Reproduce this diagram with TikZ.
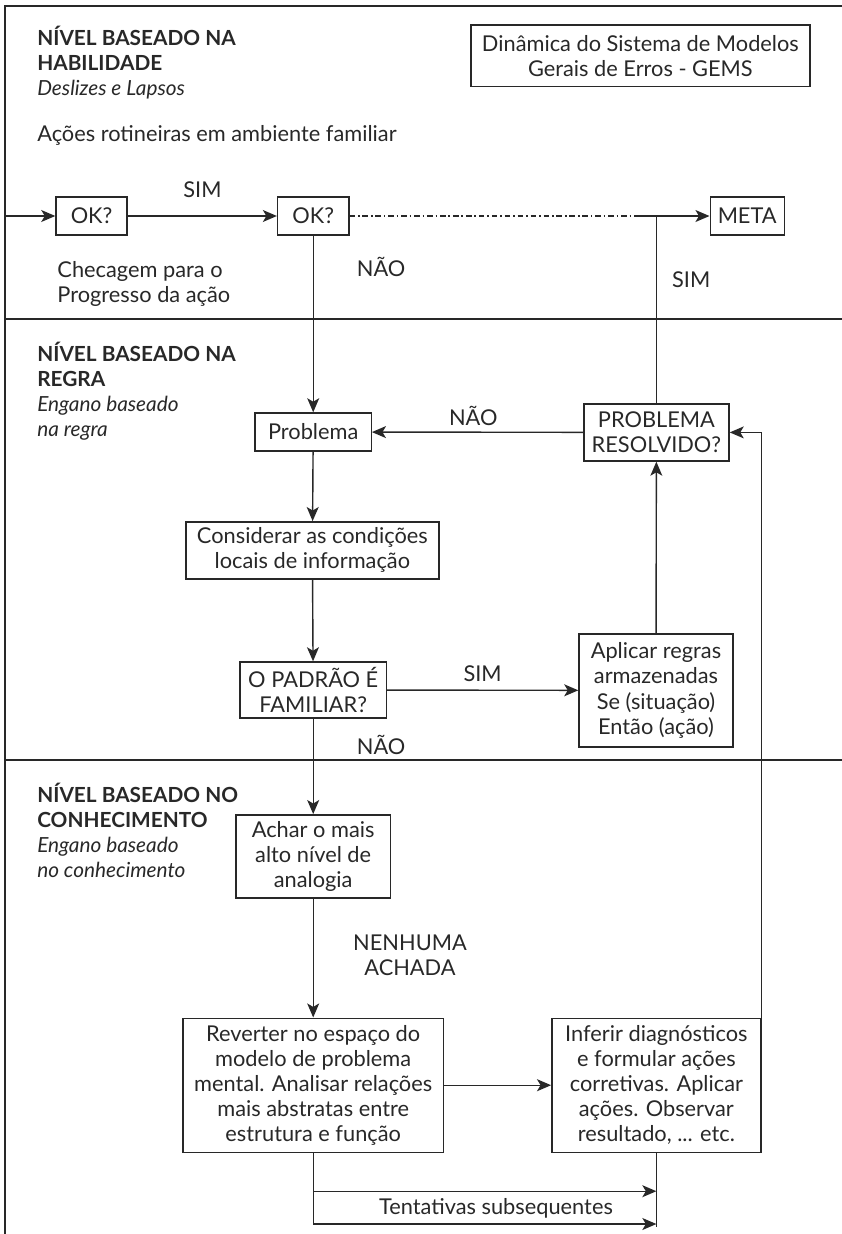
\documentclass[tikz,border=0pt]{standalone}
\usepackage{fontspec}
\setmainfont{Lato}
\usepackage{tikz}
\usetikzlibrary{arrows.meta, positioning, calc}
\definecolor{InkGray}{RGB}{40, 40, 40}

\begin{document}
\begin{tikzpicture}[
            >={Stealth[length=10pt, width=8.5pt, inset=2.5pt]},
            txt/.style={font=\fontsize{15.5}{17.8}\selectfont, text=InkGray, align=center, inner sep=0pt},
            lvl/.style={txt, align=left, anchor=west},
            head/.style={lvl, font=\fontsize{14.8}{17.8}\selectfont},
            box/.style={txt, draw=InkGray, line width=1pt, minimum height=0.95cm},
            flow/.style={->, line width=1pt, InkGray},
            wire/.style={line width=1pt, InkGray},
            frame/.style={line width=1.1pt, InkGray}
        ]

        \useasboundingbox (0,0) rectangle (21.05,-30.85);

        % --- RAMKA I PODZIAŁ NA POZIOMY ---
        \draw[frame] (21.05,-0.15) -- (0.125,-0.15) -- (0.125,-30.85);
        \draw[frame] (0.125,-7.975) -- (21.05,-7.975);
        \draw[frame] (0.125,-19.0) -- (21.05,-19.0);

        % --- ETYKIETY POZIOMÓW (Z LEWEJ STRONY) ---
        \node[head] (lvl1) at (0.925,-1.56) {\textbf{NÍVEL BASEADO NA}\\\textbf{HABILIDADE}\\\textit{Deslizes e Lapsos}};
        \node[lvl] (rotina) at (0.925,-3.375) {Ações rotineiras em ambiente familiar};
        \node[lvl] (checa) at (1.43,-7.11) {Checagem para o\\Progresso da ação};
        \node[head] (lvl2) at (0.925,-9.79) {\textbf{NÍVEL BASEADO NA}\\\textbf{REGRA}\\\textit{Engano baseado}\\\textit{na regra}};
        \node[head] (lvl3) at (0.925,-20.76) {\textbf{NÍVEL BASEADO NO}\\\textbf{CONHECIMENTO}\\\textit{Engano baseado}\\\textit{no conhecimento}};

        \node[box, minimum width=8.48cm, minimum height=1.53cm] (gems) at (16.01,-1.39) {Dinâmica do Sistema de Modelos\\Gerais de Erros - GEMS};

        % --- POZIOM 1: Habilidade ---
        \node[box, minimum width=1.78cm] (ok1) at (2.29,-5.4) {OK?};
        \node[box, minimum width=1.78cm] (ok2) at (7.83,-5.4) {OK?};
        \node[box, minimum width=1.85cm] (meta) at (18.68,-5.4) {META};

        \coordinate (entrada) at (0.125,-5.4);
        \coordinate (fimtraco) at (15.85,-5.4);

        \draw[flow] (entrada) -- (ok1);
        \draw[flow] (ok1) -- (ok2) node[txt, midway, above=0.45cm] {SIM};
        \draw[wire, dash pattern=on 4pt off 2pt on 1.2pt off 2pt] (ok2) -- (fimtraco);
        \draw[flow] (fimtraco) -- (meta);

        % --- POZIOM 2: Regra ---
        \node[box, minimum width=2.9cm] (problema) at (7.83,-10.8) {Problema};
        \node[box, minimum width=3.63cm, minimum height=1.43cm] (resolvido) at (16.41,-10.81) {PROBLEMA\\RESOLVIDO?};
        \node[box, minimum width=6.33cm, minimum height=1.43cm] (considerar) at (7.81,-13.76) {Considerar as condições\\locais de informação};
        \node[box, minimum width=3.65cm, minimum height=1.4cm] (padrao) at (7.83,-17.25) {O PADRÃO É\\FAMILIAR?};
        \node[box, minimum width=3.85cm, minimum height=2.83cm] (aplicar) at (16.4,-17.26) {Aplicar regras\\armazenadas\\Se (situação)\\Então (ação)};

        \draw[flow] (ok2) -- (problema);
        \node[txt] (nao1) at (9.53,-6.68) {NÃO};
        \draw[wire] (resolvido) -- (resolvido |- meta);
        \node[txt] (sim2) at (17.28,-7.0) {SIM};
        \draw[flow] (resolvido) -- (problema) node[txt, pos=0.52, above=0.15cm] {NÃO};
        \draw[flow] (problema) -- (considerar);
        \draw[flow] (considerar) -- (padrao);
        \draw[flow] (padrao) -- (aplicar) node[txt, midway, above=0.2cm] {SIM};
        \draw[flow] (aplicar) -- (resolvido);

        % --- POZIOM 3: Conhecimento ---
        \node[box, minimum width=3.85cm, minimum height=2.08cm] (achar) at (7.83,-21.41) {Achar o mais\\alto nível de\\analogia};
        \node[box, minimum width=6.5cm, minimum height=3.35cm] (reverter) at (7.83,-27.13) {Reverter no espaço do\\modelo de problema\\mental. Analisar relações\\mais abstratas entre\\estrutura e função};
        \node[box, minimum width=5.23cm, minimum height=3.35cm] (inferir) at (16.41,-27.13) {Inferir diagnósticos\\e formular ações\\corretivas. Aplicar\\ações. Observar\\resultado, ... etc.};

        \draw[flow] (padrao) -- (achar);
        \node[txt] (nao2) at (9.53,-18.63) {NÃO};
        \draw[flow] (achar) -- (reverter);
        \node[txt] (nenhuma) at (10.25,-23.89) {NENHUMA\\ACHADA};
        \draw[flow] (reverter) -- (inferir);
        \draw[flow] (inferir.north east) |- (resolvido.east);

        % Kolejne próby (pod spodem)
        \coordinate (tent1) at (16.41,-29.78);
        \coordinate (tent2) at (16.41,-30.6);
        \coordinate (inferirfim) at (16.41,-30.68);
        \draw[flow] (reverter.south) |- (tent2);
        \draw[flow] (reverter.south |- tent1) -- (tent1);
        \draw[wire] (inferir.south) -- (inferirfim);
        \node[txt] (tentativas) at (12.4,-30.2) {Tentativas subsequentes};

        \end{tikzpicture}
\end{document}
